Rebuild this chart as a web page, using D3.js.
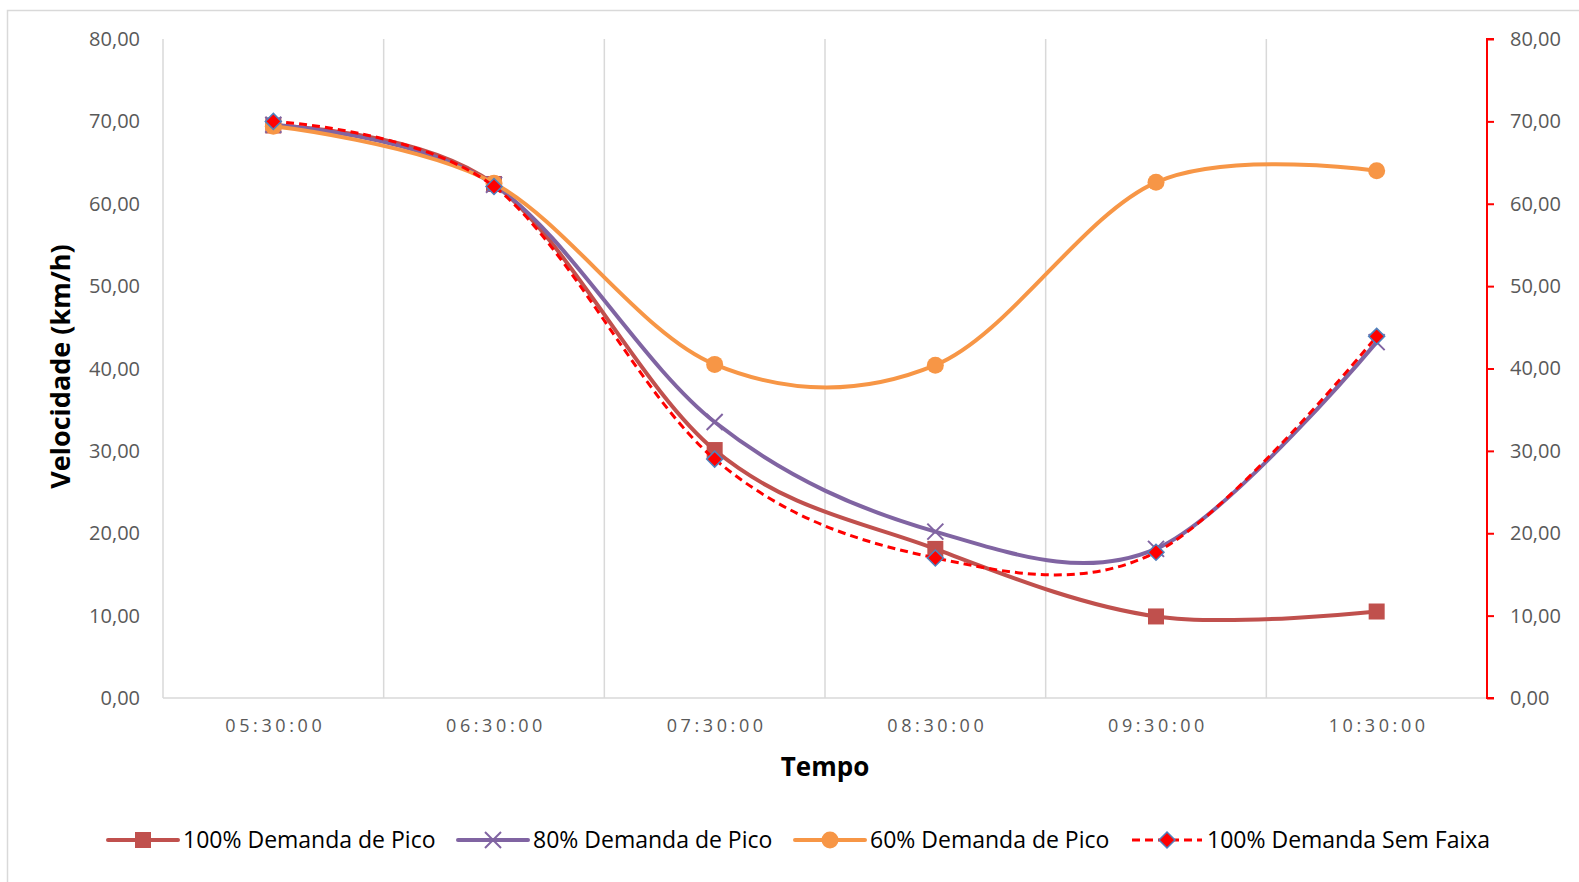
<!DOCTYPE html>
<html>
<head>
<meta charset="utf-8">
<script src="https://cdn.jsdelivr.net/npm/d3@7"></script>
<style>
  html, body { margin: 0; padding: 0; background: #fff; overflow: hidden; }
  svg { display: block; width: 100vw; height: 100vh; }
  text { font-family: "Open Sans", "Noto Sans", sans-serif; }
</style>
</head>
<body>
<svg id="chart" viewBox="0 0 1579 882" preserveAspectRatio="none"></svg>
<script>

// Categories and tick labels.
var categories = ['05:30:00', '06:30:00', '07:30:00', '08:30:00', '09:30:00', '10:30:00'];
var yTicks = [0, 10, 20, 30, 40, 50, 60, 70, 80];

// Series values (km/h).
var pico100 = [69.5, 62.4, 30.1, 18.1, 9.9, 10.5];
var pico80 = [69.6, 62.3, 33.5, 20.2, 18.1, 43.2];
var pico60 = [69.4, 62.5, 40.5, 40.4, 62.6, 64.0];
var semFaixa = [70.0, 62.1, 29.0, 17.0, 17.7, 43.9];

var series = [
  { name: '100% Demanda de Pico', values: pico100, color: '#C0504D', marker: 'square', dash: null },
  { name: '80% Demanda de Pico', values: pico80, color: '#8064A2', marker: 'cross', dash: null },
  { name: '60% Demanda de Pico', values: pico60, color: '#F79646', marker: 'circle', dash: null },
  { name: '100% Demanda Sem Faixa', values: semFaixa, color: '#FF0000', marker: 'diamond', dash: '8,5' }
];

var svg = d3.select('#chart');

// Outer frame.
svg.append('rect')
  .attr('x', 7.5).attr('y', 10.5)
  .attr('width', 1600).attr('height', 900)
  .attr('fill', 'none').attr('stroke', '#d9d9d9').attr('stroke-width', 1.5);

// Plot area.
var plotLeft = 163, plotRight = 1487, plotTop = 39, plotBottom = 698;

var x = d3.scaleBand().domain(categories).range([plotLeft, plotRight]);
var y = d3.scaleLinear().domain([0, 80]).range([plotBottom, plotTop]);

// Vertical grid lines on category boundaries.
var bounds = categories.map(function(c) { return x(c); }).slice(1);
svg.selectAll('.grid').data(bounds).enter().append('line')
  .attr('x1', function(d) { return d; }).attr('x2', function(d) { return d; })
  .attr('y1', plotTop).attr('y2', plotBottom)
  .attr('stroke', '#d9d9d9').attr('stroke-width', 1.5);

// Left axis line and x axis line.
svg.append('line').attr('x1', plotLeft).attr('x2', plotLeft).attr('y1', plotTop).attr('y2', plotBottom)
  .attr('stroke', '#d9d9d9').attr('stroke-width', 1.5);
svg.append('line').attr('x1', plotLeft).attr('x2', plotRight).attr('y1', plotBottom).attr('y2', plotBottom)
  .attr('stroke', '#d9d9d9').attr('stroke-width', 1.5);

var fmt = function(d) { return d3.format('.2f')(d).replace('.', ','); };

// Left y tick labels.
svg.selectAll('.yl').data(yTicks).enter().append('text')
  .attr('x', 140).attr('y', function(d) { return y(d); })
  .attr('dy', '0.35em').attr('text-anchor', 'end')
  .attr('font-size', 20).attr('fill', '#595959')
  .text(fmt);

// Right y axis (red).
var rightAxis = svg.append('g').attr('transform', 'translate(' + plotRight + ',0)')
  .call(d3.axisRight(y).tickValues(yTicks).tickSize(7).tickFormat(fmt));
rightAxis.select('.domain').attr('stroke', '#FF0000').attr('stroke-width', 2)
  .attr('d', 'M7,' + plotTop + 'H0V' + plotBottom + 'H7');
rightAxis.selectAll('.tick line').attr('stroke', '#FF0000').attr('stroke-width', 2);
rightAxis.selectAll('.tick text')
  .attr('x', 23).attr('font-size', 20).attr('fill', '#595959')
  .style('font-family', '"Open Sans", "Noto Sans", sans-serif');

// X tick labels.
svg.selectAll('.xl').data(categories).enter().append('text')
  .attr('x', function(d) { return x(d) + x.bandwidth() / 2 + 2; })
  .attr('y', 726).attr('dy', '0.35em').attr('text-anchor', 'middle')
  .attr('font-size', 18).attr('letter-spacing', 3.6).attr('fill', '#595959')
  .text(function(d) { return d; });

// Axis titles.
svg.append('text')
  .attr('transform', 'translate(61,' + ((plotTop + plotBottom) / 2 - 2) + ') rotate(-90)')
  .attr('text-anchor', 'middle').attr('dy', '0.35em').attr('font-size', 27).attr('font-weight', 'bold')
  .attr('fill', '#000').text('Velocidade (km/h)');
svg.append('text')
  .attr('x', (plotLeft + plotRight) / 2).attr('y', 767).attr('dy', '0.35em')
  .attr('text-anchor', 'middle').attr('font-size', 26).attr('font-weight', 'bold')
  .attr('fill', '#000').text('Tempo');

// Marker drawing.
function drawMarker(g, s, cx, cy) {
  if (s.marker === 'square') {
    g.append('rect').attr('x', cx - 8).attr('y', cy - 8).attr('width', 16).attr('height', 16)
      .attr('fill', s.color);
  } else if (s.marker === 'cross') {
    g.append('path').attr('d', 'M' + (cx - 8) + ',' + (cy - 8) + 'L' + (cx + 8) + ',' + (cy + 8) +
      'M' + (cx - 8) + ',' + (cy + 8) + 'L' + (cx + 8) + ',' + (cy - 8))
      .attr('stroke', s.color).attr('stroke-width', 2).attr('fill', 'none');
  } else if (s.marker === 'circle') {
    g.append('circle').attr('cx', cx).attr('cy', cy).attr('r', 8.5).attr('fill', s.color);
  } else if (s.marker === 'diamond') {
    g.append('path').attr('d', 'M' + cx + ',' + (cy - 8) + 'L' + (cx + 8) + ',' + cy +
      'L' + cx + ',' + (cy + 8) + 'L' + (cx - 8) + ',' + cy + 'Z')
      .attr('fill', '#FF0000').attr('stroke', '#4F81BD').attr('stroke-width', 1.5);
  }
}

var line = d3.line()
  .x(function(d, i) { return x(categories[i]) + x.bandwidth() / 2; })
  .y(function(d) { return y(d); })
  .curve(d3.curveCatmullRom.alpha(0));

// Series.
series.forEach(function(s) {
  var g = svg.append('g');
  g.append('path').datum(s.values).attr('d', line)
    .attr('fill', 'none').attr('stroke', s.color)
    .attr('stroke-width', s.dash ? 3 : 4)
    .attr('stroke-dasharray', s.dash)
    .attr('stroke-linecap', s.dash ? 'butt' : 'round');
  s.values.forEach(function(v, i) {
    drawMarker(g, s, x(categories[i]) + x.bandwidth() / 2, y(v));
  });
});

// Legend.
var legendX = [108, 458, 795, 1132];
var legendY = 840;
series.forEach(function(s, i) {
  var g = svg.append('g');
  var x0 = legendX[i];
  g.append('line').attr('x1', x0).attr('x2', x0 + 70).attr('y1', legendY).attr('y2', legendY)
    .attr('stroke', s.color).attr('stroke-width', s.dash ? 3 : 4)
    .attr('stroke-dasharray', s.dash).attr('stroke-linecap', s.dash ? 'butt' : 'round');
  drawMarker(g, s, x0 + 35, legendY);
  g.append('text').attr('x', x0 + 75).attr('y', legendY).attr('dy', '0.35em')
    .attr('font-size', 23).attr('fill', '#000').text(s.name);
});

</script>
</body>
</html>
